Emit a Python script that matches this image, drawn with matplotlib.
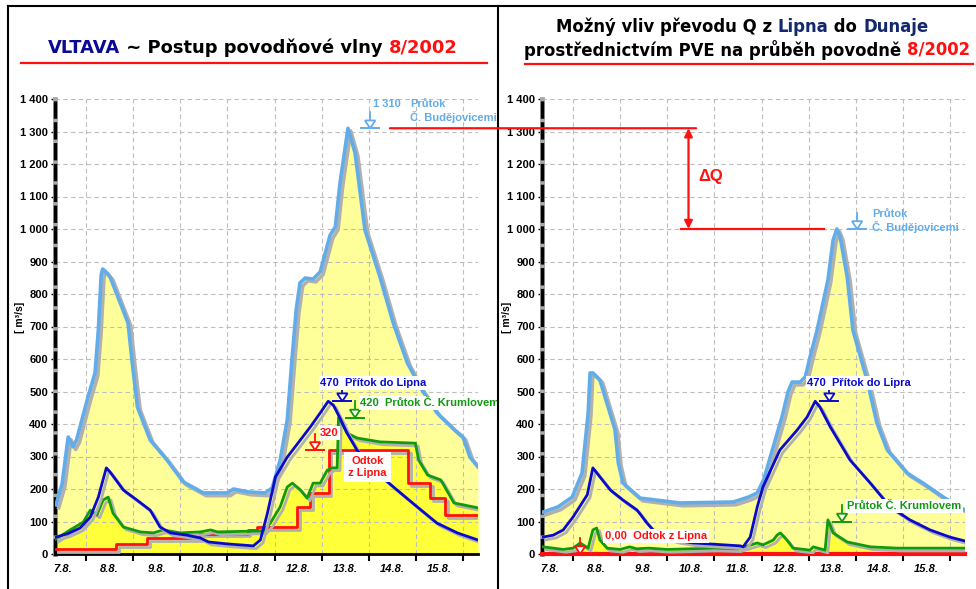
import matplotlib.pyplot as plt
import matplotlib.patheffects as pe
from matplotlib.patches import ConnectionPatch
from matplotlib.lines import Line2D

plt.rcParams['font.family'] = ['Liberation Sans', 'DejaVu Sans']
plt.rcParams['font.weight'] = 'bold'

# ---- levý graf: skutečný průběh povodně 8/2002 (den v srpnu, Q v m3/s) ----
cb_l_x = [7.36, 7.49, 7.62, 7.72, 7.80, 8.04, 8.19, 8.26, 8.32, 8.35, 8.40, 8.51, 8.89, 8.98,
          9.09, 9.36, 9.72, 10.06, 10.49, 11.00, 11.13, 11.44, 11.80, 11.95, 12.12, 12.27,
          12.37, 12.46, 12.54, 12.65, 12.82, 12.97, 13.18, 13.29, 13.39, 13.56, 13.71, 13.92,
          14.24, 14.52, 14.82, 15.13, 15.45, 15.83, 16.00, 16.15, 16.32]
cb_l_q = [151, 215, 360, 330, 352, 483, 557, 689, 858, 877, 871, 852, 711, 588,
          452, 351, 289, 222, 188, 188, 200, 191, 188, 203, 289, 412,
          597, 751, 834, 849, 846, 868, 981, 1006, 1141, 1310, 1234, 997,
          852, 711, 588, 505, 434, 381, 360, 298, 268]

lip_l_x = [7.36, 7.60, 7.87, 8.09, 8.26, 8.34, 8.43, 8.51, 8.79, 9.08, 9.36, 9.57, 9.79, 10.14,
           10.43, 10.60, 11.00, 11.55, 11.70, 11.85, 12.02, 12.27, 12.55, 12.76, 12.97, 13.14,
           13.25, 13.39, 13.54, 13.75, 14.18, 14.60, 15.03, 15.45, 15.88, 16.32]
lip_l_q = [52, 62, 80, 114, 175, 218, 265, 252, 197, 166, 135, 83, 65, 58,
           49, 37, 31, 25, 43, 126, 237, 298, 351, 391, 434, 470,
           458, 418, 372, 320, 249, 197, 145, 95, 65, 43]

kr_l_x = [7.36, 7.66, 7.94, 8.09, 8.23, 8.36, 8.47, 8.57, 8.79, 9.15, 9.43, 9.64, 10.00, 10.43,
          10.64, 10.79, 11.77, 11.91, 12.12, 12.27, 12.38, 12.55, 12.69, 12.82, 12.97, 13.12,
          13.22, 13.33, 13.36, 13.39, 13.54, 13.75, 14.24, 14.99, 15.06, 15.25, 15.53, 15.81, 16.32]
kr_l_q = [46, 74, 98, 135, 120, 166, 175, 126, 83, 68, 65, 74, 65, 68,
          74, 68, 71, 95, 145, 206, 218, 197, 172, 218, 218, 258,
          265, 265, 420, 415, 372, 357, 345, 341, 289, 243, 228, 157, 142]

odt_l_x = [7.34, 8.63, 9.30, 10.40, 11.43, 11.62, 12.48, 12.75, 13.15, 14.84, 15.30, 15.62, 16.32]
odt_l_q = [15, 31, 50, 63, 75, 82, 145, 188, 320, 217, 172, 120, 120]

# ---- pravý graf: průběh při převodu vody z Lipna do Dunaje ----
cb_r_x = [7.36, 7.68, 7.98, 8.19, 8.32, 8.36, 8.42, 8.57, 8.89, 8.96, 9.06, 9.42, 10.27, 11.40,
          11.72, 11.91, 12.05, 12.25, 12.45, 12.56, 12.65, 12.82, 12.93, 13.03, 13.18, 13.41,
          13.52, 13.60, 13.67, 13.82, 13.94, 14.24, 14.45, 14.67, 15.09, 15.43, 15.86, 16.32]
cb_r_q = [129, 145, 175, 249, 434, 557, 557, 535, 382, 280, 218, 172, 157, 160,
          175, 188, 230, 330, 430, 498, 529, 529, 545, 606, 689, 843,
          966, 1000, 975, 852, 689, 535, 403, 320, 249, 218, 175, 135]

lip_r_x = [7.36, 7.58, 7.79, 8.00, 8.19, 8.30, 8.42, 8.57, 8.79, 9.06, 9.36, 9.57, 9.70, 9.90,
           10.20, 10.55, 11.55, 11.61, 11.76, 11.91, 12.03, 12.39, 12.76, 12.97, 13.14, 13.24,
           13.46, 13.88, 14.31, 14.73, 15.15, 15.58, 16.00, 16.32]
lip_r_q = [52, 58, 74, 114, 157, 182, 265, 237, 197, 166, 135, 95, 74, 55,
           42, 34, 25, 22, 52, 145, 206, 320, 382, 422, 470, 452,
           391, 289, 218, 145, 105, 74, 52, 40]

kr_r_x = [7.36, 7.58, 7.79, 8.00, 8.15, 8.32, 8.42, 8.50, 8.57, 8.72, 9.00, 9.20, 9.35, 9.60,
          10.00, 10.50, 11.00, 11.50, 11.91, 12.03, 12.25, 12.33, 12.40, 12.54, 12.67, 13.03,
          13.10, 13.35, 13.41, 13.52, 13.82, 14.31, 14.88, 16.32]
kr_r_q = [22, 18, 14, 18, 34, 18, 74, 80, 43, 18, 14, 22, 16, 18,
          14, 16, 18, 16, 34, 28, 43, 58, 65, 43, 18, 12,
          22, 12, 105, 65, 37, 22, 18, 18]

odt_r_x = [7.34, 16.32]
odt_r_q = [0, 0]

den_hranice = [8, 9, 10, 11, 12, 13, 14, 15, 16]
den_popisky = ['7.8.', '8.8.', '9.8.', '10.8.', '11.8.', '12.8.', '13.8.', '14.8.', '15.8.']
den_stredy = [7.5, 8.5, 9.5, 10.5, 11.5, 12.5, 13.5, 14.5, 15.5]

SVETLE_MODRA = '#62acea'
MODRA = '#0a0acd'
ZELENA = '#109a10'
CERVENA = '#ff1010'
BLEDE_ZLUTA = '#ffff99'
ZLUTA = '#ffff3a'

W, H = 976, 589
fig = plt.figure(figsize=(W / 100, H / 100), dpi=100)


def osa(x0, x1, ytop, ybot):
    return fig.add_axes([x0 / W, 1 - ybot / H, (x1 - x0) / W, (ybot - ytop) / H])


def stin():
    return [pe.SimpleLineShadow(offset=(2, -2), shadow_color='#b0b0b0', alpha=1), pe.Normal()]


def priprav_osu(ax):
    ax.set_xlim(7.34, 16.32)
    ax.set_ylim(0, 1400)
    ax.set_yticks(range(0, 1401, 100))
    ax.set_yticklabels([f'{v:,}'.replace(',', ' ') for v in range(0, 1401, 100)])
    ax.set_xticks(den_hranice)
    ax.set_xticklabels([])
    ax.set_xticks(den_stredy, minor=True)
    ax.set_xticklabels(den_popisky, minor=True, fontstyle='italic', fontsize=8, fontweight='bold')
    ax.tick_params(axis='x', which='major', length=5, width=1.5, color='black')
    ax.tick_params(axis='x', which='minor', length=0, pad=7)
    ax.tick_params(axis='y', length=3, width=1, pad=2, labelsize=8)
    ax.set_axisbelow(True)
    ax.grid(True, which='major', color='#bdbdbd', linestyle=(0, (4, 3)), lw=0.8)
    for s in ['top', 'right']:
        ax.spines[s].set_visible(False)
    ax.spines['bottom'].set_linewidth(2)
    ax.spines['left'].set_linewidth(2.5)
    ax.spines['left'].set_linestyle((0, (4, 2)))
    ax.axvline(7.34, color='#a8a8a8', lw=3.5, clip_on=False, zorder=2)
    ax.set_ylabel('[ m³/s]', fontsize=7.5, fontweight='bold')
    ax.yaxis.set_label_coords(-0.072, 0.52)


def hladina(ax, x, q, color):
    # značka hladiny: stonek, trojúhelník a čára na úrovni hladiny
    ax.plot([x, x], [q + 22, q + 50], color=color, lw=1.3, zorder=7, clip_on=False)
    ax.fill([x - 0.11, x + 0.11, x], [q + 24, q + 24, q], facecolor='white',
            edgecolor=color, lw=1.3, zorder=7, clip_on=False)
    ax.plot([x - 0.19, x + 0.19], [q, q], color=color, lw=1.4, zorder=7, clip_on=False)


def popis(ax, x, y, s, color, size=8, box=True, **kw):
    bb = dict(fc='white', ec='none', pad=1.2) if box else None
    ax.text(x, y, s, color=color, fontsize=size, fontweight='bold', va='center',
            bbox=bb, zorder=8, clip_on=False, **kw)


def kresli(ax, cb_x, cb_q, lip_x, lip_q, kr_x, kr_q, odt_x, odt_q, odt_kroky):
    ax.fill_between(cb_x, cb_q, color=BLEDE_ZLUTA, lw=0, zorder=0.2)
    ax.fill_between(kr_x, kr_q, color=ZLUTA, lw=0, zorder=0.3)
    ax.plot(cb_x, cb_q, color=SVETLE_MODRA, lw=2.6, zorder=3, path_effects=stin())
    if odt_kroky:
        ax.plot(odt_x, odt_q, color=CERVENA, lw=2, drawstyle='steps-post', zorder=4,
                path_effects=stin())
    else:
        ax.plot(odt_x, odt_q, color=CERVENA, lw=3, zorder=4, clip_on=False)
    ax.plot(kr_x, kr_q, color=ZELENA, lw=2, zorder=4, path_effects=stin())
    ax.plot(lip_x, lip_q, color=MODRA, lw=2, zorder=5, path_effects=stin())


ax1 = osa(55, 478, 99, 554)
ax2 = osa(542, 965, 99, 554)
for ax in (ax1, ax2):
    priprav_osu(ax)

kresli(ax1, cb_l_x, cb_l_q, lip_l_x, lip_l_q, kr_l_x, kr_l_q, odt_l_x, odt_l_q, True)
kresli(ax2, cb_r_x, cb_r_q, lip_r_x, lip_r_q, kr_r_x, kr_r_q, odt_r_x, odt_r_q, False)

# popisky levého grafu
hladina(ax1, 14.03, max(cb_l_q), SVETLE_MODRA)
popis(ax1, 14.09, 1385, f'{max(cb_l_q):,}'.replace(',', ' '), SVETLE_MODRA, box=False)
popis(ax1, 14.88, 1385, 'Průtok', SVETLE_MODRA, box=False)
popis(ax1, 14.88, 1345, 'Č. Budějovicemi', SVETLE_MODRA, box=False)
hladina(ax1, 13.44, max(lip_l_q), MODRA)
popis(ax1, 12.97, 526, f'{max(lip_l_q)}  Přítok do Lipna', MODRA)
hladina(ax1, 13.71, max(kr_l_q), ZELENA)
popis(ax1, 13.82, 465, f'{max(kr_l_q)}  Průtok Č. Krumlovem', ZELENA)
hladina(ax1, 12.86, max(odt_l_q), CERVENA)
popis(ax1, 12.97, 372, f'{max(odt_l_q)}', CERVENA)
ax1.text(13.97, 268, 'Odtok\nz Lipna', color=CERVENA, fontsize=8, fontweight='bold',
         ha='center', va='center', linespacing=1.25, zorder=8,
         bbox=dict(fc='white', ec='none', pad=3))

# popisky pravého grafu
hladina(ax2, 14.03, max(cb_r_q), SVETLE_MODRA)
popis(ax2, 14.35, 1046, 'Průtok', SVETLE_MODRA, box=False)
popis(ax2, 14.35, 1006, 'Č. Budějovicemi', SVETLE_MODRA, box=False)
hladina(ax2, 13.44, max(lip_r_q), MODRA)
popis(ax2, 12.97, 526, f'{max(lip_r_q)}  Přítok do Lipra', MODRA)
hladina(ax2, 13.71, 100, ZELENA)
popis(ax2, 13.82, 148, 'Průtok Č. Krumlovem', ZELENA)
hladina(ax2, 8.15, 0, CERVENA)
popis(ax2, 8.68, 55, '0,00  Odtok z Lipna', CERVENA)

# rozdíl kulminací ΔQ
q_pred, q_po = max(cb_l_q), max(cb_r_q)
spojka = ConnectionPatch(xyA=(14.45, q_pred), coordsA=ax1.transData,
                         xyB=(10.61, q_pred), coordsB=ax2.transData,
                         color=CERVENA, lw=1.6, zorder=9)
fig.add_artist(spojka)
ax2.plot([10.30, 13.33], [q_po, q_po], color=CERVENA, lw=1.6, zorder=6)
ax2.annotate('', xy=(10.45, q_po), xytext=(10.45, q_pred),
             arrowprops=dict(arrowstyle='<|-|>', color=CERVENA, lw=1.6,
                             mutation_scale=12, shrinkA=0, shrinkB=0), zorder=6)
ax2.text(10.65, (q_pred + q_po) / 2 + 6, 'ΔQ', color=CERVENA, fontsize=12,
         fontweight='bold', va='center')


# nadpisy složené z barevných částí
NADPIS_FONT = ['DejaVu Sans']


def nadpis(cx, cy, casti, size):
    r = fig.canvas.get_renderer()

    def sirka(s):
        t = fig.text(0, 0, s + '|', fontsize=size, fontweight='bold', family=NADPIS_FONT)
        w = t.get_window_extent(r).width
        t.remove()
        return w

    w_bar = sirka('')
    cely = ''.join(s for s, _ in casti)
    x = cx - (sirka(cely) - w_bar) / 2
    predpona = ''
    for s, c in casti:
        xp = x + (sirka(predpona) - w_bar if predpona else 0)
        fig.text(xp / W, 1 - cy / H, s, color=c, fontsize=size, fontweight='bold',
                 family=NADPIS_FONT, va='center', ha='left')
        predpona += s


nadpis(253, 48, [('VLTAVA', '#0a0a96'), (' ~ Postup povodňové vlny ', 'black'),
                 ('8/2002', CERVENA)], 12.9)
nadpis(742, 27, [('Možný vliv převodu Q z ', 'black'), ('Lipna', '#14286e'),
                 (' do ', 'black'), ('Dunaje', '#14286e')], 11.9)
nadpis(747, 50, [('prostřednictvím PVE na průběh povodně ', 'black'), ('8/2002', CERVENA)], 11.9)

# podtržení nadpisů a rámeček
fig.add_artist(Line2D([21 / W, 487 / W], [1 - 63 / H, 1 - 63 / H], color=CERVENA, lw=1.6))
fig.add_artist(Line2D([525 / W, 973 / W], [1 - 64 / H, 1 - 64 / H], color=CERVENA, lw=1.6))
fig.add_artist(Line2D([8 / W, 8 / W], [0, 1 - 6 / H], color='black', lw=1.5))
fig.add_artist(Line2D([8 / W, 1], [1 - 6 / H, 1 - 6 / H], color='black', lw=1.5))
fig.add_artist(Line2D([498 / W, 498 / W], [0, 1 - 6 / H], color='black', lw=1.5))

fig.savefig('out.png', dpi=100)
